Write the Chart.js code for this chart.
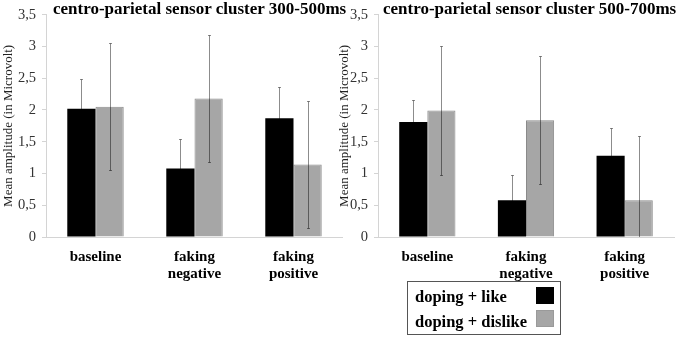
<!DOCTYPE html>
<html lang="en">
<head>
<meta charset="UTF-8">
<title>Centro-parietal sensor cluster</title>
<script src="https://cdn.jsdelivr.net/npm/chart.js"></script>
<style>
body { margin: 0; width: 680px; height: 338px; background: #fff; position: relative; overflow: hidden;
       font-family: "Liberation Serif", "Times New Roman", serif; }
.panel { position: absolute; top: 0; height: 338px; }
.title { position: absolute; top: 0; font-weight: bold; font-size: 17px; line-height: 17px; white-space: nowrap; color: #000; }
#legend { position: absolute; left: 407px; top: 281px; width: 152px; height: 52px; border: 1px solid #555; }
#legend .row { position: absolute; left: 7px; font-weight: bold; font-size: 16.5px; line-height: 18px; white-space: nowrap; }
#legend .sw { position: absolute; left: 128px; width: 18px; height: 17px; box-sizing: border-box; }
</style>
</head>
<body>

<div class="panel" style="left:0;width:343px"><canvas id="early"></canvas></div>
<div class="panel" style="left:336px;width:344px"><canvas id="late"></canvas></div>
<div class="title" style="left:53px">centro-parietal sensor cluster 300-500ms</div>
<div class="title" style="left:383px">centro-parietal sensor cluster 500-700ms</div>
<div id="legend"></div>

<script>
// categories and series
const categories = ['baseline', ['faking', 'negative'], ['faking', 'positive']];
const seriesNames = ['doping + like', 'doping + dislike'];
const seriesColors = ['#000000', '#a6a6a6'];

// 300-500ms window (mean amplitude, microvolt) and error half-widths
const earlyLike = [2.02, 1.08, 1.87];
const earlyLikeErr = [0.47, 0.47, 0.49];
const earlyDislike = [2.05, 2.18, 1.14];
const earlyDislikeErr = [1.00, 1.00, 1.00];

// 500-700ms window
const lateLike = [1.81, 0.58, 1.28];
const lateLikeErr = [0.35, 0.39, 0.44];
const lateDislike = [1.99, 1.84, 0.58];
const lateDislikeErr = [1.02, 1.01, 1.01];

const yTicksMin = 0, yTicksMax = 3.5, yStep = 0.5;

// draws the error bars over the bars, clipped to the plot area
const errorBars = {
    id: 'errorBars',
    afterDatasetsDraw(chart) {
        const { ctx, chartArea, scales } = chart;
        const y = scales.y;
        ctx.save();
        ctx.beginPath();
        ctx.rect(chartArea.left, 0, chartArea.width, chartArea.bottom);
        ctx.clip();
        ctx.strokeStyle = 'rgba(0,0,0,0.45)';
        ctx.lineWidth = 1;
        chart.data.datasets.forEach((ds, i) => {
            chart.getDatasetMeta(i).data.forEach((bar, j) => {
                const v = ds.data[j], e = ds.errors[j];
                const x = Math.round(bar.x) + 0.5;
                const top = Math.round(y.getPixelForValue(v + e)) + 0.5;
                const bot = Math.round(y.getPixelForValue(v - e)) + 0.5;
                ctx.beginPath();
                ctx.moveTo(x, top); ctx.lineTo(x, bot);
                ctx.moveTo(x - 1.5, top); ctx.lineTo(x + 1.5, top);
                ctx.moveTo(x - 1.5, bot); ctx.lineTo(x + 1.5, bot);
                ctx.stroke();
            });
        });
        ctx.restore();
    }
};

function makeChart(id, like, likeErr, dislike, dislikeErr, yWidth, padRight) {
    const ctx = document.getElementById(id).getContext('2d');
    return new Chart(ctx, {
        type: 'bar',
        data: {
            labels: categories,
            datasets: [
                { label: seriesNames[0], data: like, errors: likeErr,
                  backgroundColor: seriesColors[0], borderColor: '#000', borderWidth: 0 },
                { label: seriesNames[1], data: dislike, errors: dislikeErr,
                  backgroundColor: seriesColors[1], borderColor: '#8a8a8a', borderWidth: 1 }
            ]
        },
        options: {
            responsive: true,
            maintainAspectRatio: false,
            animation: false,
            layout: { padding: { top: 10, right: padRight, bottom: 0, left: 0 } },
            categoryPercentage: 0.57,
            barPercentage: 1.0,
            plugins: { legend: { display: false }, tooltip: { enabled: false } },
            scales: {
                x: {
                    grid: { display: false },
                    border: { display: true, color: '#d4d4d4' },
                    ticks: {
                        color: '#000', padding: 3, maxRotation: 0, autoSkip: false,
                        font: { family: 'Liberation Serif', size: 15, weight: 'bold', lineHeight: 1.15 }
                    },
                    afterFit: s => { s.height = 101; }
                },
                y: {
                    min: yTicksMin, max: yTicksMax,
                    grid: { drawOnChartArea: false, drawTicks: true, tickLength: 4, color: '#d4d4d4' },
                    border: { display: true, color: '#d4d4d4' },
                    ticks: {
                        stepSize: yStep, color: '#333', padding: 6,
                        font: { family: 'Liberation Serif', size: 14.5 },
                        callback: v => String(v).replace('.', ',')
                    },
                    title: {
                        display: true, text: 'Mean amplitude (in Microvolt)', color: '#222',
                        padding: { top: 1, bottom: 0 },
                        font: { family: 'Liberation Serif', size: 13 }
                    },
                    afterFit: s => { s.width = yWidth; }
                }
            }
        },
        plugins: [errorBars]
    });
}

makeChart('early', earlyLike, earlyLikeErr, earlyDislike, earlyDislikeErr, 46, 0);
makeChart('late', lateLike, lateLikeErr, lateDislike, lateDislikeErr, 42, 6);

// legend box built from the series
const legend = document.getElementById('legend');
seriesNames.forEach((name, i) => {
    const row = document.createElement('div');
    row.className = 'row';
    row.style.top = (6 + i * 25) + 'px';
    row.textContent = name;
    legend.appendChild(row);
    const sw = document.createElement('div');
    sw.className = 'sw';
    sw.style.top = (5 + i * 23) + 'px';
    sw.style.background = seriesColors[i];
    sw.style.border = '1px solid ' + (i ? '#9a9a9a' : '#000');
    legend.appendChild(sw);
});
</script>

</body>
</html>
